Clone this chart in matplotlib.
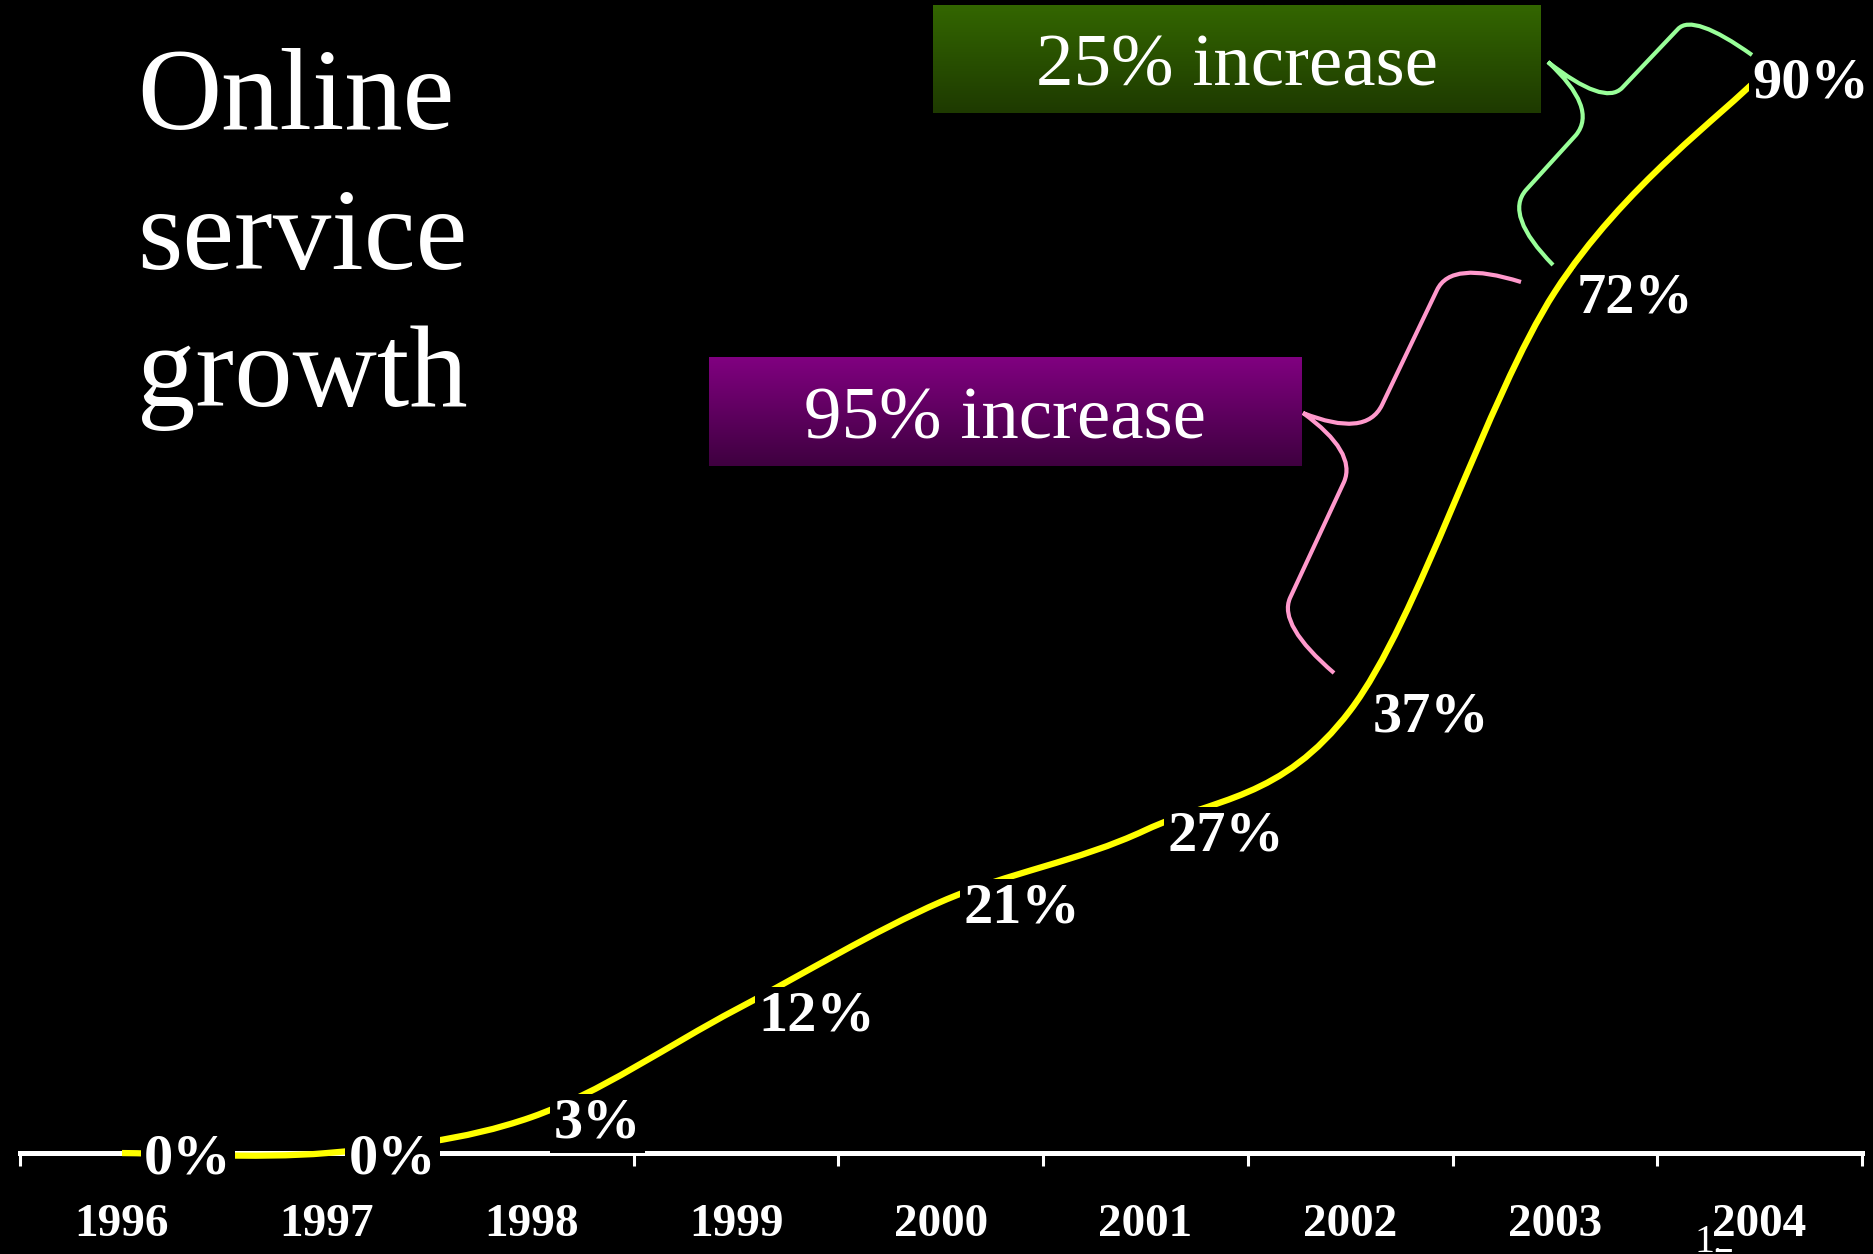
import matplotlib
matplotlib.use('Agg')
import matplotlib.pyplot as plt
import numpy as np
from matplotlib.path import Path
from matplotlib.patches import PathPatch
from matplotlib.transforms import Affine2D
from matplotlib.colors import LinearSegmentedColormap

years = ['1996', '1997', '1998', '1999', '2000', '2001', '2002', '2003', '2004']
share = [0, 0, 3, 12, 21, 27, 37, 72, 90]
point_labels = [f'{v}%' for v in share]
title_lines = ['Online', 'service', 'growth']
callout_green = '25% increase'
callout_purple = '95% increase'
slide_no = '12'

SERIF = ['Liberation Serif', 'DejaVu Serif']
W, H = 1874, 1254

fig = plt.figure(figsize=(W / 100, H / 100), dpi=100, facecolor='black')
ax = fig.add_axes([0, 0, 1, 1])
ax.set_facecolor('black')
ax.set_xlim(-0.596, 8.559)
ax.set_ylim(-8.44, 96.4)

# pixel coords (origin top-left) -> figure
px = Affine2D().scale(1 / W, -1 / H).translate(0, 1) + fig.transFigure

# smooth yellow line (catmull-rom through the data points)
pts = np.column_stack([np.arange(len(share)), share]).astype(float)
n = len(pts)
verts = [pts[0]]
codes = [Path.MOVETO]
for i in range(n - 1):
    p0 = pts[max(i - 1, 0)]
    p1 = pts[i]
    p2 = pts[i + 1]
    p3 = pts[min(i + 2, n - 1)]
    c1 = p1 + (p2 - p0) / 6
    c2 = p2 - (p3 - p1) / 6
    verts += [c1, c2, p2]
    codes += [Path.CURVE4] * 3
ax.add_patch(PathPatch(Path(verts, codes), fill=False, ec='#ffff00', lw=4.5,
                       zorder=3, capstyle='butt'))

# data labels with black boxes that hide the line
for i, (v, lbl) in enumerate(zip(share, point_labels)):
    dx = 16 if i < n - 1 else -5
    ax.annotate(lbl, (i, v), xytext=(dx, -15), textcoords='offset points',
                ha='left', va='baseline', fontsize=42, fontweight='bold',
                family=SERIF, color='white', zorder=4,
                bbox=dict(boxstyle='square,pad=0.06', fc='black', ec='none'))

# axis
for s in ['top', 'left', 'right']:
    ax.spines[s].set_visible(False)
ax.spines['bottom'].set_position(('data', 0))
ax.spines['bottom'].set_bounds(-0.5, 8.5)
ax.spines['bottom'].set_color('white')
ax.spines['bottom'].set_linewidth(3.6)
ax.set_yticks([])
ax.set_xticks(range(len(years)))
ax.set_xticklabels(years, fontsize=34, fontweight='bold', family=SERIF, color='white')
ax.set_xticks(np.arange(-0.5, len(years), 1), minor=True)
ax.tick_params(axis='x', which='major', length=0, pad=37)
ax.tick_params(axis='x', which='minor', length=9.4, width=2.2, color='white', direction='out')
for t in ax.get_xticklabels():
    t.set_bbox(dict(boxstyle='square,pad=0.03', fc='black', ec='none'))

# slide number, partly hidden behind the 2004 label
ax.text(1695 / W, 1 - 1252 / H, slide_no, transform=fig.transFigure, fontsize=29,
        family=SERIF, color='white', ha='left', va='baseline', zorder=1)

# title
for y, line in zip([129, 269, 406], title_lines):
    fig.text(137 / W, 1 - y / H, line, fontsize=84, family=SERIF, color='white',
             ha='left', va='baseline')

# callout boxes
def callout(x0, y0, x1, y1, top, bottom, text):
    bax = fig.add_axes([x0 / W, 1 - y1 / H, (x1 - x0) / W, (y1 - y0) / H])
    cm = LinearSegmentedColormap.from_list('g', [top, bottom])
    bax.imshow(np.linspace(0, 1, 64)[:, None], cmap=cm, aspect='auto',
               extent=[0, 1, 0, 1], origin='upper')
    bax.set_xlim(0, 1)
    bax.set_ylim(0, 1)
    bax.axis('off')
    bax.text(0.5, 0.25, text, ha='center', va='baseline', fontsize=54,
             family=SERIF, color='white')

callout(933, 5, 1541, 113, '#336600', '#1e3a00', callout_green)
callout(709, 357, 1301, 466, '#800080', '#3f0040', callout_purple)

# braces
C3, L = Path.CURVE3, Path.LINETO
pink = [((1334, 673), Path.MOVETO),
        ((1278, 625), C3), ((1290, 598), C3),
        ((1344, 482), L),
        ((1357, 452), C3), ((1303, 413), C3),
        ((1366, 438), C3), ((1382, 405), C3),
        ((1437, 290), L),
        ((1451, 260), C3), ((1521, 282), C3)]
green = [((1553, 265), Path.MOVETO),
         ((1504, 215), C3), ((1526, 190), C3),
         ((1576, 135), L),
         ((1598, 108), C3), ((1548, 62), C3),
         ((1604, 106), C3), ((1622, 88), C3),
         ((1678, 29), L),
         ((1693, 13), C3), ((1752, 55), C3)]
for brace, col in [(pink, '#ff99cc'), (green, '#99ff99')]:
    path = Path([p for p, c in brace], [c for p, c in brace])
    ax.add_patch(PathPatch(path, fill=False, ec=col, lw=3.0, transform=px,
                           clip_on=False, zorder=5))

fig.savefig('out.png', dpi=100, facecolor='black')
